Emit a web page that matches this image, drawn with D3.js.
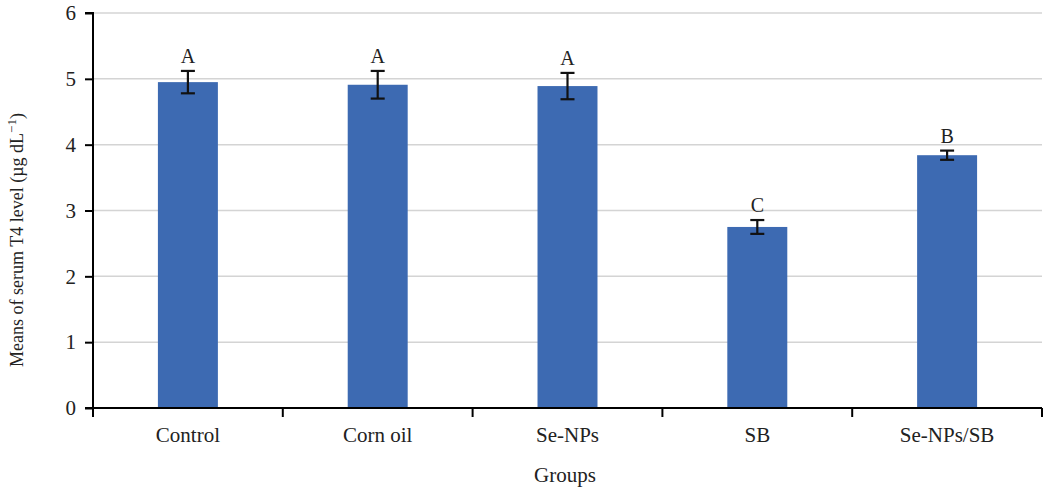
<!DOCTYPE html>
<html><head><meta charset="utf-8">
<script src="https://cdn.jsdelivr.net/npm/d3@7"></script>
<style>body{margin:0;background:#fff}svg{display:block}text{font-family:"Liberation Serif","Times New Roman",serif;fill:#222}</style>
</head><body><svg id="c" width="1052" height="493"></svg>
<script>
const categories = ["Control","Corn oil","Se-NPs","SB","Se-NPs/SB"];
const means = [4.95, 4.91, 4.89, 2.75, 3.84];
const errors = [0.17, 0.21, 0.20, 0.105, 0.07];
const letters = ["A","A","A","C","B"];
const yTicks = [0,1,2,3,4,5,6];

const svg = d3.select("#c");
const m = {l:93, r:10, t:13, b:85};
const x = d3.scaleBand().domain(categories).range([m.l, 1042]).paddingInner(0.684).paddingOuter(0.342);
const y = d3.scaleLinear().domain([0,6]).range([408, 13]);

// gridlines
svg.append("g").selectAll("line").data(yTicks.filter(d=>d>0)).join("line")
  .attr("x1", m.l).attr("x2", 1042).attr("y1", d=>y(d)).attr("y2", d=>y(d))
  .attr("stroke", "#d4d4d4").attr("stroke-width", 1.5);

// bars
svg.append("g").selectAll("rect").data(categories).join("rect")
  .attr("x", d=>x(d)).attr("width", x.bandwidth())
  .attr("y", (d,i)=>y(means[i])).attr("height", (d,i)=>y(0)-y(means[i]))
  .attr("fill", "#3d6ab2");

// error bars
const eg = svg.append("g").attr("stroke","#111").attr("stroke-width",2.2);
categories.forEach((c,i)=>{
  const cx = x(c) + x.bandwidth()/2;
  const t = y(means[i]+errors[i]), b = y(means[i]-errors[i]);
  eg.append("line").attr("x1",cx).attr("x2",cx).attr("y1",t).attr("y2",b);
  eg.append("line").attr("x1",cx-7).attr("x2",cx+7).attr("y1",t).attr("y2",t);
  eg.append("line").attr("x1",cx-7).attr("x2",cx+7).attr("y1",b).attr("y2",b);
  svg.append("text").attr("x",cx).attr("y",t-8).attr("text-anchor","middle")
    .attr("font-size",20).text(letters[i]);
});

// y axis
const ya = svg.append("g").attr("transform",`translate(${m.l},0)`)
  .call(d3.axisLeft(y).tickValues(yTicks).tickSize(8).tickPadding(9).tickFormat(d3.format("d")));
ya.select(".domain").attr("stroke","#000").attr("stroke-width",2).attr("d",`M-8,${y(6)}H0V${y(0)}`);
ya.selectAll(".tick line").attr("stroke","#000").attr("stroke-width",2);
ya.selectAll(".tick text").attr("font-size",21).attr("fill","#222").attr("font-family","Liberation Serif, serif");

// x axis
const xa = svg.append("g").attr("transform",`translate(0,${y(0)})`);
xa.append("line").attr("x1",m.l-8).attr("x2",1042).attr("y1",0).attr("y2",0).attr("stroke","#000").attr("stroke-width",2);
const tickPos = [m.l, ...categories.map(c=>x(c)+x.bandwidth()/2 + x.step()/2)];
xa.selectAll("line.t").data(tickPos).join("line").attr("class","t")
  .attr("x1",d=>d).attr("x2",d=>d).attr("y1",0).attr("y2",9).attr("stroke","#000").attr("stroke-width",2);
xa.selectAll("text").data(categories).join("text")
  .attr("x",d=>x(d)+x.bandwidth()/2).attr("y",34).attr("text-anchor","middle")
  .attr("font-size",21).text(d=>d);

// axis titles
svg.append("text").attr("x",565).attr("y",482).attr("text-anchor","middle").attr("font-size",21).text("Groups");
const yt = svg.append("text").attr("transform","translate(23,240) rotate(-90)").attr("text-anchor","middle").attr("font-size",18);
yt.append("tspan").text("Means of serum T4 level (µg dL");
yt.append("tspan").attr("dy",-7).attr("font-size",13).text("−1");
yt.append("tspan").attr("dy",7).text(")");
</script></body></html>
